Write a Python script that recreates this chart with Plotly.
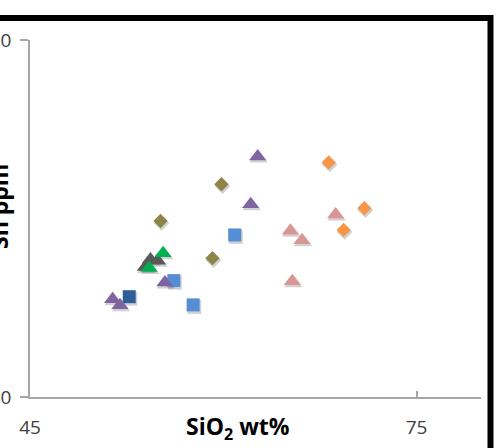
import plotly.graph_objects as go

# SiO2 (wt%) and Sn (ppm) for each rock group
purple_tri_x = [62.67, 62.13, 55.47, 51.41, 51.98]
purple_tri_y = [6.74, 5.40, 3.21, 2.74, 2.57]

olive_dia_x = [59.86, 55.13, 59.16]
olive_dia_y = [5.96, 4.93, 3.89]

blue_sq_x = [60.89, 56.16, 57.66]
blue_sq_y = [4.54, 3.26, 2.58]

navy_sq_x = [52.70]
navy_sq_y = [2.81]

gray_tri_x = [54.35, 54.90, 53.95]
gray_tri_y = [3.85, 3.82, 3.64]

green_tri_x = [55.33, 54.25]
green_tri_y = [4.03, 3.61]

pink_tri_x = [68.72, 65.21, 66.11, 65.36]
pink_tri_y = [5.11, 4.66, 4.39, 3.24]

orange_dia_x = [68.18, 70.95, 69.34]
orange_dia_y = [6.57, 5.29, 4.68]

X_RANGE = [45, 80]
Y_RANGE = [0, 10]
X_TICKS = [45, 75]
Y_TICKS = [0, 10]

W, H = 502, 448
M = dict(l=30, r=21, t=40, b=51)
plot_w = W - M["l"] - M["r"]
plot_h = H - M["t"] - M["b"]
dx_px = (X_RANGE[1] - X_RANGE[0]) / plot_w
dy_px = (Y_RANGE[1] - Y_RANGE[0]) / plot_h

series = [
    (navy_sq_x, navy_sq_y, "square", 13, "#2D5F96"),
    (blue_sq_x, blue_sq_y, "square", 13, "#558ED5"),
    (olive_dia_x, olive_dia_y, "diamond", 11, "#8C8449"),
    (orange_dia_x, orange_dia_y, "diamond", 11, "#F79646"),
    (pink_tri_x, pink_tri_y, "triangle-up", 15, "#D99694"),
    (gray_tri_x, gray_tri_y, "triangle-up", 15, "#595959"),
    (purple_tri_x, purple_tri_y, "triangle-up", 15, "#8064A2"),
    (green_tri_x, green_tri_y, "triangle-up", 15, "#00B050"),
]

fig = go.Figure()

# soft drop shadows under the markers
for xs, ys, sym, size, col in series:
    fig.add_trace(go.Scatter(
        x=[v + 1.0 * dx_px for v in xs],
        y=[v - 2.0 * dy_px for v in ys],
        mode="markers",
        marker=dict(symbol=sym, size=size + 1, color="rgba(0,0,0,0.18)",
                    line=dict(width=0)),
        hoverinfo="skip", showlegend=False,
    ))

for xs, ys, sym, size, col in series:
    fig.add_trace(go.Scatter(
        x=xs, y=ys, mode="markers",
        marker=dict(symbol=sym, size=size, color=col, line=dict(width=0)),
        showlegend=False,
    ))

axis_font = dict(family="Open Sans, Liberation Sans, sans-serif", size=19, color="#404040")

fig.update_xaxes(
    range=X_RANGE, tickvals=X_TICKS, ticktext=[str(v) for v in X_TICKS],
    showgrid=False, zeroline=False, showline=True, linecolor="#A6A6A6", linewidth=1.5,
    ticks="inside", ticklen=6, tickcolor="#A6A6A6", tickwidth=1.5,
    tickfont=axis_font, automargin=False, ticklabelstandoff=12,
)
fig.update_yaxes(
    range=Y_RANGE, tickvals=Y_TICKS, ticktext=[str(v) for v in Y_TICKS],
    showgrid=True, gridcolor="#A6A6A6", gridwidth=1.5, zeroline=False,
    showline=True, linecolor="#A6A6A6", linewidth=1.5,
    ticks="outside", ticklen=8, tickcolor="#A6A6A6", tickwidth=1.5,
    tickfont=axis_font, automargin=False, ticklabelstandoff=5,
)

title_font = dict(family="Open Sans, Liberation Sans, sans-serif", size=23, color="#000000")

fig.add_annotation(
    text="<b>SiO<sub>2</sub> wt%</b>", xref="paper", yref="paper",
    x=(238 - M["l"]) / plot_w, y=-(428 - (H - M["b"])) / plot_h,
    xanchor="center", yanchor="middle", showarrow=False,
    font=title_font,
)
fig.add_annotation(
    text="<b>Sn ppm</b>", xref="paper", yref="paper",
    x=(-1 - M["l"]) / plot_w, y=((H - M["b"]) - 207) / plot_h,
    xanchor="center", yanchor="middle", showarrow=False, textangle=-90,
    font=title_font,
)

# heavy black frame around the chart
fig.add_shape(
    type="rect", xref="paper", yref="paper",
    x0=-0.5, x1=(490.5 - M["l"]) / plot_w,
    y0=-0.5, y1=((H - M["b"]) - 18) / plot_h,
    line=dict(color="black", width=6), fillcolor="rgba(0,0,0,0)", layer="above",
)

fig.update_layout(
    width=W, height=H, margin=M,
    paper_bgcolor="white", plot_bgcolor="white",
)

fig.write_html("out.html")
